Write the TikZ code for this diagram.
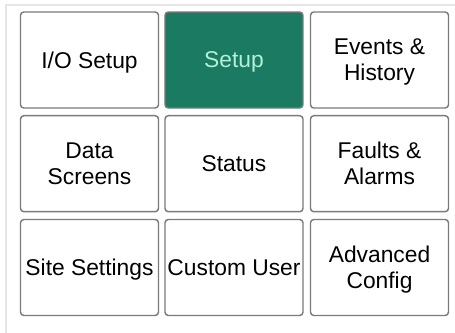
\documentclass[tikz,border=0pt]{standalone}
\usepackage{fontspec}
\setmainfont{Liberation Sans}
\usepackage{tikz}

\definecolor{tileedge}{HTML}{7A7A7A}
\definecolor{tilegreen}{HTML}{1B7A62}
\definecolor{tilemint}{HTML}{B4F0D2}
\definecolor{paneledge}{HTML}{E6E6E6}

\begin{document}
\begin{tikzpicture}[x=0.75pt,y=-0.75pt,
  tile/.style={rectangle,rounded corners=2.5pt,draw=tileedge,line width=1.1pt,fill=white,
    minimum width=103.5pt,minimum height=72pt,inner sep=0pt,align=center,text depth=0pt,
    font=\fontsize{17.1}{19.5}\selectfont},
  tileon/.style={tile,fill=tilegreen,text=tilemint}]
\useasboundingbox (0,0) rectangle (455,333);
\draw[paneledge,line width=1.8pt] (6,333) -- (6,5) -- (455,5);

\node[tile] (iosetup) at (89.5,60) {I/O Setup};
\node[tileon] (setup) at (234,60) {Setup};
\node[tile] (events) at (379.5,60) {Events \&\\History};

\node[tile] (data) at (89.5,163.7) {Data\\Screens};
\node[tile] (status) at (234,163.7) {Status};
\node[tile] (faults) at (379.5,163.7) {Faults \&\\Alarms};

\node[tile] (site) at (89.5,267.5) {Site Settings};
\node[tile] (custom) at (234,267.5) {Custom User};
\node[tile] (advanced) at (379.5,267.5) {Advanced\\Config};
\end{tikzpicture}
\end{document}
